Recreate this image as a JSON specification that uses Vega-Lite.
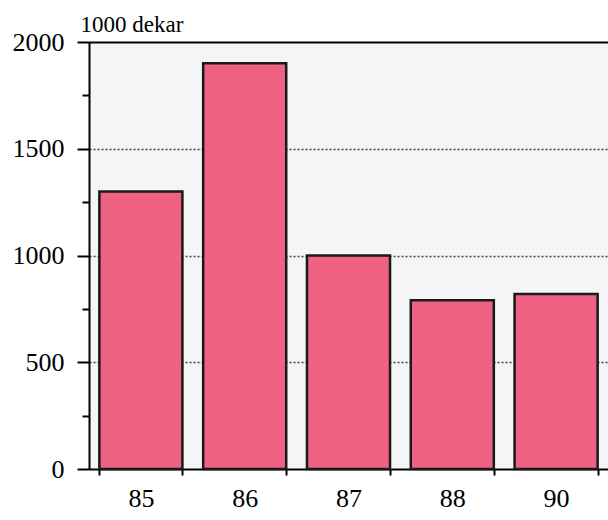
{
  "$schema": "https://vega.github.io/schema/vega-lite/v6.json",
  "autosize": {"type": "none"},
  "padding": {"left": 89, "top": 42, "right": 0, "bottom": 51},
  "width": 519,
  "height": 427,
  "background": "white",
  "config": {
    "view": {"fill": "#f3f5f7", "stroke": null},
    "font": "Liberation Serif",
    "axis": {"titleFont": "Liberation Serif", "labelFont": "Liberation Serif"}
  },
  "data": {
    "values": [
      {"year": "85", "value": 1300},
      {"year": "86", "value": 1900},
      {"year": "87", "value": 1000},
      {"year": "88", "value": 790},
      {"year": "90", "value": 820}
    ]
  },
  "mark": {"type": "bar", "fill": "#ef6283", "stroke": "#1a1a1a", "strokeWidth": 2.5},
  "encoding": {
    "x": {
      "field": "year",
      "type": "ordinal",
      "sort": null,
      "scale": {"paddingInner": 0.2, "paddingOuter": 0.1},
      "axis": {
        "title": null,
        "labelAngle": 0,
        "labelFontSize": 26,
        "labelColor": "black",
        "labelPadding": 10,
        "tickBand": "extent",
        "tickSize": 6,
        "tickWidth": 2,
        "tickColor": "black",
        "domainColor": "black",
        "domainWidth": 2,
        "grid": false
      }
    },
    "y": {
      "field": "value",
      "type": "quantitative",
      "scale": {"domain": [0, 2000], "nice": false},
      "axis": {
        "title": "1000 dekar",
        "titleAngle": 0,
        "titleAlign": "left",
        "titleBaseline": "alphabetic",
        "titleX": -9,
        "titleY": -11,
        "titleFontSize": 23,
        "titleFontWeight": "normal",
        "titleColor": "black",
        "values": [0, 250, 500, 750, 1000, 1250, 1500, 1750, 2000],
        "labelExpr": "datum.value % 500 === 0 ? datum.label : ''",
        "format": "d",
        "labelFontSize": 26,
        "labelColor": "black",
        "labelPadding": 13,
        "tickSize": {"condition": {"test": "datum.value % 500 === 0", "value": 12}, "value": 7},
        "tickWidth": 2,
        "tickColor": "black",
        "domainColor": "black",
        "domainWidth": 2,
        "grid": true,
        "gridColor": {"condition": {"test": "datum.value === 2000", "value": "black"}, "value": "#444444"},
        "gridWidth": {"condition": {"test": "datum.value === 2000", "value": 2}, "value": 1.5},
        "gridDash": {"condition": {"test": "datum.value === 2000", "value": []}, "value": [2, 2]},
        "gridOpacity": {"condition": {"test": "datum.value % 500 === 0 && datum.value > 0", "value": 1}, "value": 0}
      }
    }
  }
}
